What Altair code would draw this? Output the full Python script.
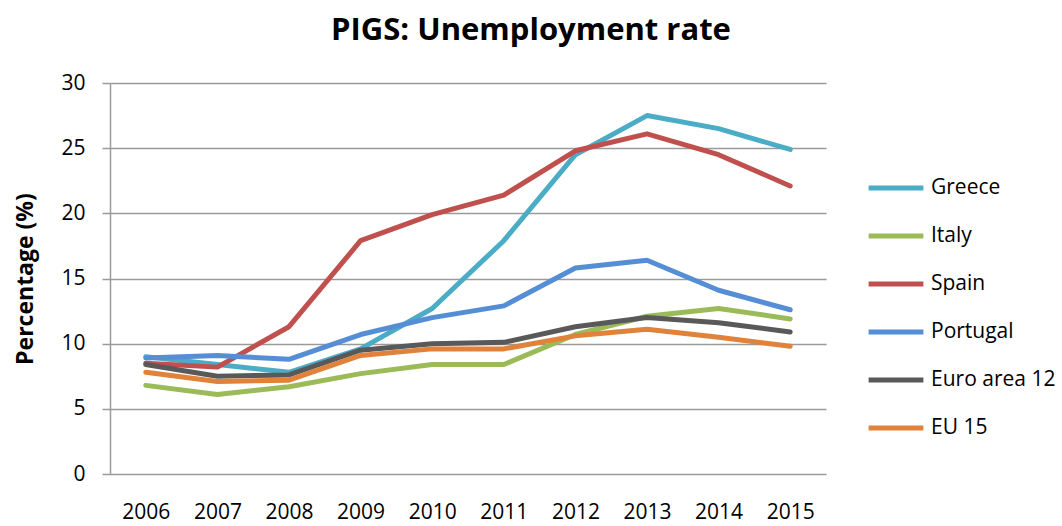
import altair as alt
import pandas as pd

years = ["2006", "2007", "2008", "2009", "2010", "2011", "2012", "2013", "2014", "2015"]
series_names = ["Greece", "Italy", "Spain", "Portugal", "Euro area 12", "EU 15"]
greece = [9.0, 8.4, 7.8, 9.6, 12.7, 17.9, 24.5, 27.5, 26.5, 24.9]
italy = [6.8, 6.1, 6.7, 7.7, 8.4, 8.4, 10.7, 12.1, 12.7, 11.9]
spain = [8.5, 8.2, 11.3, 17.9, 19.9, 21.4, 24.8, 26.1, 24.5, 22.1]
portugal = [8.9, 9.1, 8.8, 10.7, 12.0, 12.9, 15.8, 16.4, 14.1, 12.6]
euro12 = [8.4, 7.5, 7.6, 9.5, 10.0, 10.1, 11.3, 12.0, 11.6, 10.9]
eu15 = [7.8, 7.1, 7.2, 9.1, 9.6, 9.6, 10.6, 11.1, 10.5, 9.8]
colors = ["#4BACC6", "#9BBB59", "#C0504D", "#558ED5", "#595959", "#E0823A"]

values = [greece, italy, spain, portugal, euro12, eu15]
rows = []
for name, vals in zip(series_names, values):
    for y, v in zip(years, vals):
        rows.append({"Year": y, "Series": name, "Value": v})
df = pd.DataFrame(rows)

FONT = "Open Sans"

chart = alt.Chart(df).mark_line(strokeWidth=5, strokeCap="round", strokeJoin="round").encode(
    x=alt.X("Year:O", sort=years, title=None,
            axis=alt.Axis(labelAngle=0, ticks=False, domain=False, grid=False,
                          labelFont=FONT, labelFontSize=21, labelColor="#000000",
                          labelPadding=27)),
    y=alt.Y("Value:Q", scale=alt.Scale(domain=[0, 30], nice=False),
            title="Percentage (%)",
            axis=alt.Axis(values=[0, 5, 10, 15, 20, 25, 30], tickSize=8, tickColor="#9A9A9A",
                          tickWidth=1.5, domainColor="#9A9A9A", domainWidth=1.5,
                          gridColor="#9A9A9A", gridWidth=1.5,
                          labelFont=FONT, labelFontSize=21, labelColor="#000000", labelPadding=17,
                          titleFont=FONT, titleFontSize=23, titleFontWeight="bold", titleColor="#000000",
                          titleX=-85, titleY=195.5, titleAngle=-90, titleAlign="center",
                          titleBaseline="middle")),
    color=alt.Color("Series:N", sort=series_names,
                    scale=alt.Scale(domain=series_names, range=colors),
                    legend=alt.Legend(title=None, orient="none", legendX=756, legendY=75,
                                      symbolType="stroke", symbolSize=3000, symbolStrokeWidth=5,
                                      labelFont=FONT, labelFontSize=21, labelColor="#000000",
                                      labelOffset=5, rowPadding=8)),
    order=alt.Order("Series:N"),
).properties(
    width=716,
    height=391,
    background="white",
    title=alt.TitleParams("PIGS: Unemployment rate", font=FONT, fontSize=31, fontWeight="bold",
                          color="#000000", anchor="middle", dx=63, offset=25),
    autosize=alt.AutoSizeParams(type="none"),
    padding={"left": 110, "top": 83, "right": 236, "bottom": 52},
).configure_view(stroke=None)

chart.save("out.html", embed_options={"renderer": "svg", "actions": False})
